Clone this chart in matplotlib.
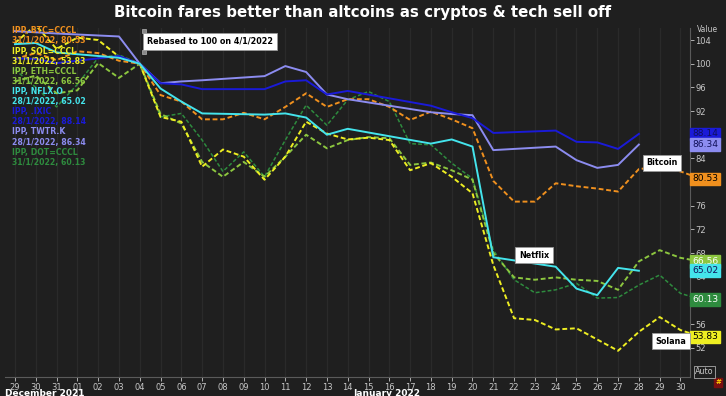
import matplotlib
matplotlib.use("Agg")
import matplotlib.pyplot as plt
import matplotlib.dates as mdates
from matplotlib.patches import Rectangle
import pandas as pd

# daily crypto closes, rebased to 100 on 4/1/2022 (29 Dec 2021 .. 31 Jan 2022)
crypto_dates = pd.date_range("2021-12-29", "2022-01-31", freq="D")
btc = [100.8, 101.8, 100.6, 102.1, 101.8, 100.5, 100.0, 94.7, 93.6, 90.6, 90.6, 91.7,
       90.6, 92.7, 95.0, 92.7, 94.0, 94.0, 92.7, 90.5, 91.9, 90.6, 89.1, 80.2, 76.7,
       76.7, 79.8, 79.3, 78.9, 78.4, 82.2, 82.6, 81.8, 80.53]
sol = [103.5, 106.5, 102.5, 104.4, 104.0, 101.2, 100.0, 91.0, 90.2, 82.6, 85.5, 84.3,
       80.4, 84.3, 90.2, 88.2, 87.2, 87.5, 87.1, 82.0, 83.2, 80.9, 78.1, 66.0, 57.0,
       56.7, 55.1, 55.3, 53.4, 51.5, 54.7, 57.2, 55.0, 53.83]
eth = [97.0, 98.0, 95.0, 95.5, 100.1, 97.6, 100.0, 91.5, 89.9, 83.4, 80.9, 83.4,
       80.9, 84.3, 88.0, 85.7, 87.1, 87.6, 87.4, 82.9, 83.3, 82.0, 80.4, 68.0, 63.9,
       63.5, 63.9, 63.5, 63.3, 61.8, 66.6, 68.5, 67.2, 66.56]
dot = [99.0, 96.0, 92.7, 96.5, 101.0, 101.5, 100.0, 91.0, 91.6, 87.1, 81.8, 85.1,
       80.9, 87.1, 93.0, 89.6, 93.9, 95.3, 93.6, 86.5, 86.3, 83.2, 80.6, 68.5, 63.5,
       61.3, 61.8, 62.9, 60.4, 60.5, 62.6, 64.3, 61.2, 60.13]

# stock trading days only
stock_dates = pd.to_datetime([
    "2021-12-29", "2021-12-30", "2021-12-31", "2022-01-03", "2022-01-04", "2022-01-05",
    "2022-01-06", "2022-01-07", "2022-01-10", "2022-01-11", "2022-01-12", "2022-01-13",
    "2022-01-14", "2022-01-18", "2022-01-19", "2022-01-20", "2022-01-21", "2022-01-24",
    "2022-01-25", "2022-01-26", "2022-01-27", "2022-01-28"])
nflx = [103.3, 103.5, 101.9, 101.0, 100.0, 95.8, 93.6, 91.6, 91.4, 91.6, 90.9, 88.0,
        89.0, 86.5, 87.2, 86.0, 67.3, 65.7, 62.0, 60.9, 65.5, 65.02]
ixic = [100.9, 100.8, 100.1, 101.3, 100.0, 96.7, 96.5, 95.7, 95.7, 97.0, 97.2, 94.8,
        95.4, 92.9, 91.8, 90.8, 88.3, 88.7, 86.8, 86.7, 85.6, 88.14]
twtr = [105.5, 105.3, 105.1, 104.6, 100.0, 96.7, 97.0, 97.2, 97.9, 99.6, 98.6, 94.8,
        94.0, 91.8, 91.5, 91.3, 85.4, 86.0, 83.7, 82.4, 82.9, 86.34]

legend_lines = [
    ("IPP, BTC=CCCL", "31/1/2022, 80.53"),
    ("IPP, SOL=CCCL", "31/1/2022, 53.83"),
    ("IPP, ETH=CCCL", "31/1/2022, 66.56"),
    ("IPP, NFLX.O", "28/1/2022, 65.02"),
    ("IPP, .IXIC", "28/1/2022, 88.14"),
    ("IPP, TWTR.K", "28/1/2022, 86.34"),
    ("IPP, DOT=CCCL", "31/1/2022, 60.13"),
]
last_values = [80.53, 53.83, 66.56, 65.02, 88.14, 86.34, 60.13]

BG = "#1f1f1f"
C_BTC = "#f0901e"
C_SOL = "#eeee22"
C_ETH = "#8cc63f"
C_NFLX = "#44e4ec"
C_IXIC = "#1a1ad8"
C_TWTR = "#8c8cf0"
C_DOT = "#2e8b3e"
colors = [C_BTC, C_SOL, C_ETH, C_NFLX, C_IXIC, C_TWTR, C_DOT]
box_text = ["black", "black", "white", "#10105a", "#10105a", "#10105a", "white"]

W, H = 726, 396
fig = plt.figure(figsize=(W / 100, H / 100), dpi=100, facecolor=BG)
ax = fig.add_axes([5 / W, 1 - 377 / H, 685 / W, 349 / H], facecolor=BG)

dash = (0, (2.5, 1.4))
ax.plot(crypto_dates, dot, color=C_DOT, lw=1.1, ls=dash)
ax.plot(crypto_dates, eth, color=C_ETH, lw=1.4, ls=dash)
ax.plot(crypto_dates, sol, color=C_SOL, lw=1.4, ls=dash)
ax.plot(crypto_dates, btc, color=C_BTC, lw=1.4, ls=dash)
ax.plot(stock_dates, twtr, color=C_TWTR, lw=1.4)
ax.plot(stock_dates, ixic, color=C_IXIC, lw=1.4)
ax.plot(stock_dates, nflx, color=C_NFLX, lw=1.4)

x0 = pd.Timestamp("2021-12-29")
ax.set_xlim(x0 - pd.Timedelta(hours=11.5), pd.Timestamp("2022-01-30") + pd.Timedelta(hours=11))
ax.set_ylim(47.07, 106.03)

ticks = pd.date_range("2021-12-29", "2022-01-30", freq="D")
ax.set_xticks(ticks)
ax.xaxis.set_major_formatter(mdates.DateFormatter("%d"))
ax.grid(axis="x", color="#2a2a2a", lw=0.9)
ax.yaxis.tick_right()
ax.set_yticks(range(52, 105, 4))
ax.tick_params(axis="both", colors="#c8c8c8", labelsize=6, length=3, width=0.6, pad=1)
for s in ["top", "left"]:
    ax.spines[s].set_visible(False)
for s in ["bottom", "right"]:
    ax.spines[s].set_color("#5a5a5a")

# legend text top-left
y = 31
for (a, b), c in zip(legend_lines, colors):
    fig.text(12 / W, 1 - y / H, a, color=c, fontsize=5.6, fontweight="bold", va="center")
    fig.text(12 / W, 1 - (y + 10) / H, b, color=c, fontsize=5.6, fontweight="bold", va="center")
    y += 20.2

# last-value boxes on the right axis
for v, c, tc in zip(last_values, colors, box_text):
    ax.annotate(f"{v:.2f}", xy=(1.0, v), xycoords=("axes fraction", "data"),
                xytext=(1.5, 0), textcoords="offset points", va="center", ha="left",
                fontsize=6.6, color=tc,
                bbox=dict(boxstyle="square,pad=0.2", fc=c, ec=c))

fig.text(697 / W, 1 - 29 / H, "Value", color="#c8c8c8", fontsize=5.5, va="center")

# title
fig.text(0.5, 1 - 13 / H, "Bitcoin fares better than altcoins as cryptos & tech sell off",
         color="white", fontsize=10.8, fontweight="bold", ha="center", va="center")

# annotations
box = dict(boxstyle="square,pad=0.45", fc="white", ec="#999999", lw=0.6)
fig.text(210 / W, 1 - 41.5 / H, "Rebased to 100 on 4/1/2022", color="black", fontsize=5.8,
         fontweight="bold", ha="center", va="center", bbox=box)
for hx, hy in [(144, 31), (144, 52)]:
    fig.add_artist(Rectangle(((hx - 2) / W, 1 - (hy + 2) / H), 4 / W, 4 / H,
                             transform=fig.transFigure, fc="#888888", ec="#cccccc", lw=0.4))
fig.text(662 / W, 1 - 163 / H, "Bitcoin", color="black", fontsize=5.8, fontweight="bold",
         ha="center", va="center", bbox=box)
fig.text(534 / W, 1 - 255 / H, "Netflix", color="black", fontsize=5.8, fontweight="bold",
         ha="center", va="center", bbox=box)
fig.text(671 / W, 1 - 341 / H, "Solana", color="black", fontsize=5.8, fontweight="bold",
         ha="center", va="center", bbox=box)

# month labels and bottom widgets
fig.text(5 / W, 1 - 394 / H, "December 2021", color="white", fontsize=6.5,
         fontweight="bold", va="center")
fig.text(353 / W, 1 - 394 / H, "January 2022", color="white", fontsize=6.5,
         fontweight="bold", va="center")
fig.add_artist(plt.Line2D([77 / W, 77 / W], [0, 1 - 386 / H], color="#777777", lw=0.6))
fig.text(695 / W, 1 - 372 / H, "Auto", color="#c8c8c8", fontsize=5.8, va="center",
         bbox=dict(boxstyle="square,pad=0.15", fc=BG, ec="#aaaaaa", lw=0.6))
fig.add_artist(Rectangle((714 / W, 1 - 387 / H), 8 / W, 9 / H, transform=fig.transFigure,
                         fc="#7a1010", ec="#7a1010"))
fig.text(718 / W, 1 - 382.5 / H, "#", color="#ffd000", fontsize=5, ha="center",
         va="center", fontweight="bold")

fig.savefig("out.png", dpi=100, facecolor=BG)
